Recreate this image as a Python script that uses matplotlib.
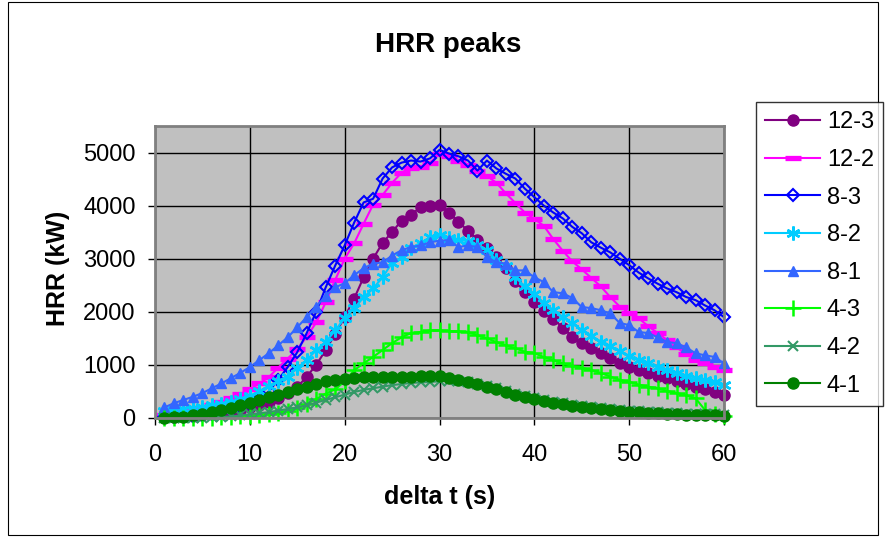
import matplotlib
matplotlib.use("Agg")
import matplotlib.pyplot as plt
from matplotlib.patches import Rectangle

plt.rcParams['font.family'] = ['Liberation Sans', 'DejaVu Sans']

# time axis (s)
t = list(range(1, 61))

labels = ["12-3", "12-2", "8-3", "8-2", "8-1", "4-3", "4-2", "4-1"]

hrr_12_3 = [10, 20, 30, 45, 60, 80, 100, 130, 160, 200,
            250, 310, 380, 470, 580, 780, 1000, 1280, 1580, 1900,
            2250, 2650, 3000, 3300, 3500, 3720, 3830, 3970, 3990, 4020,
            3870, 3690, 3530, 3350, 3200, 3030, 2830, 2580, 2370, 2180,
            2020, 1870, 1700, 1530, 1420, 1320, 1230, 1130, 1040, 960,
            900, 850, 800, 750, 700, 640, 590, 540, 490, 440]

hrr_12_2 = [50, 80, 110, 150, 190, 240, 300, 370, 450, 540,
            650, 770, 950, 1120, 1300, 1530, 1800, 2180, 2600, 3000,
            3290, 3660, 4020, 4200, 4430, 4620, 4710, 4730, 4810, 4980,
            4930, 4850, 4760, 4650, 4560, 4430, 4230, 4050, 3870, 3750,
            3620, 3370, 3150, 2950, 2800, 2640, 2480, 2280, 2100, 1980,
            1880, 1730, 1600, 1470, 1330, 1200, 1100, 1030, 960, 900]

hrr_8_3 = [10, 20, 30, 45, 60, 80, 110, 150, 200, 260,
           360, 500, 720, 960, 1240, 1600, 2000, 2460, 2870, 3250,
           3680, 4060, 4130, 4510, 4720, 4810, 4850, 4830, 4890, 5050,
           4980, 4930, 4850, 4660, 4850, 4700, 4600, 4510, 4320, 4160,
           4000, 3870, 3760, 3600, 3480, 3310, 3210, 3120, 3000, 2880,
           2740, 2630, 2530, 2440, 2370, 2280, 2220, 2120, 2030, 1900]

hrr_8_2 = [130, 150, 170, 190, 210, 240, 270, 310, 360, 420,
           500, 610, 690, 780, 940, 1090, 1280, 1430, 1650, 1880,
           2070, 2270, 2440, 2650, 2920, 3030, 3200, 3300, 3400, 3450,
           3390, 3360, 3330, 3250, 3160, 2980, 2870, 2650, 2480, 2340,
           2170, 2030, 1900, 1780, 1660, 1550, 1440, 1350, 1260, 1170,
           1100, 1030, 970, 900, 850, 800, 760, 710, 670, 620]

hrr_8_1 = [200, 280, 340, 400, 470, 560, 650, 750, 850, 960,
           1090, 1220, 1370, 1520, 1710, 1900, 2100, 2300, 2460, 2540,
           2690, 2820, 2910, 2930, 3060, 3160, 3220, 3250, 3310, 3340,
           3350, 3220, 3250, 3220, 3030, 2930, 2910, 2780, 2780, 2650,
           2560, 2370, 2350, 2260, 2090, 2070, 2030, 1970, 1790, 1750,
           1620, 1600, 1520, 1430, 1410, 1330, 1220, 1180, 1150, 1030]

hrr_4_3 = [0, 0, 0, 0, 0, 0, 10, 20, 30, 40,
           60, 80, 100, 130, 180, 260, 360, 460, 540, 690,
           900, 1030, 1150, 1280, 1410, 1520, 1600, 1620, 1650, 1650,
           1640, 1630, 1620, 1560, 1500, 1430, 1370, 1310, 1250, 1220,
           1150, 1090, 1030, 980, 950, 900, 850, 780, 720, 680,
           630, 590, 560, 510, 470, 430, 370, 150, 70, 40]

hrr_4_2 = [0, 0, 0, 0, 0, 10, 20, 30, 50, 70,
           90, 110, 140, 170, 200, 240, 290, 340, 390, 440,
           490, 530, 560, 590, 620, 640, 660, 670, 680, 690,
           700, 690, 670, 640, 610, 560, 510, 460, 420, 380,
           340, 310, 280, 250, 230, 210, 190, 170, 150, 140,
           130, 120, 110, 100, 90, 80, 80, 70, 70, 60]

hrr_4_1 = [0, 10, 20, 50, 80, 110, 150, 190, 240, 290,
           340, 390, 440, 490, 540, 590, 640, 690, 720, 740,
           760, 770, 780, 780, 780, 780, 780, 790, 790, 790,
           760, 720, 680, 640, 590, 540, 490, 440, 400, 360,
           320, 290, 260, 230, 210, 190, 170, 150, 130, 120,
           110, 100, 90, 80, 70, 60, 60, 50, 50, 40]

series = [hrr_12_3, hrr_12_2, hrr_8_3, hrr_8_2, hrr_8_1, hrr_4_3, hrr_4_2, hrr_4_1]

# line colour, marker, marker size, face colour, edge width
styles = [
    ("#800080", "o", 8, "#800080", 1.0),
    ("#FF00FF", "_", 11, "#FF00FF", 3.8),
    ("#0000FF", "D", 6, "none", 1.5),
    ("#00CCFF", (6, 2, 0), 10, "#00CCFF", 1.8),
    ("#3366FF", "^", 7.5, "#3366FF", 1.0),
    ("#00FF00", "+", 11, "#00FF00", 1.8),
    ("#339966", "x", 7, "#339966", 1.5),
    ("#008000", "o", 8, "#008000", 1.0),
]

fig = plt.figure(figsize=(8.86, 5.41), dpi=100)
ax = fig.add_axes([155/886, 1 - 418/541, (724 - 155)/886, (418 - 126)/541])
ax.set_facecolor("#C0C0C0")

for y, lab, (c, m, ms, fc, mew) in zip(series, labels, styles):
    ax.plot(t, y, color=c, lw=1.5, marker=m, markersize=ms,
            markerfacecolor=fc, markeredgecolor=c, markeredgewidth=mew,
            label=lab, clip_on=False)

ax.set_xlim(0, 60)
ax.set_ylim(0, 5500)
ax.set_xticks(range(0, 61, 10))
ax.set_yticks(range(0, 5001, 1000))
ax.grid(True, color="black", lw=1.0)
ax.set_axisbelow(True)
ax.tick_params(axis="both", labelsize=17, direction="out", length=5, width=1)
ax.tick_params(axis="x", pad=14)
ax.tick_params(axis="y", pad=9)
for s in ax.spines.values():
    s.set_color("#808080")
    s.set_linewidth(2)

fig.text(448/886, 1 - 45/541, "HRR peaks", ha="center", va="center",
         fontsize=20, fontweight="bold")
fig.text(440/886, 1 - 497/541, "delta t (s)", ha="center", va="center",
         fontsize=18, fontweight="bold")
fig.text(58/886, 1 - 268/541, "HRR (kW)", ha="center", va="center",
         fontsize=18, fontweight="bold", rotation=90)

leg = fig.legend(loc="upper left", bbox_to_anchor=(756/886, 1 - 102/541),
                 borderaxespad=0, fontsize=17, handlelength=2.3,
                 labelspacing=0.66, fancybox=False, frameon=True,
                 borderpad=0.4, handletextpad=0.3)
leg.get_frame().set_edgecolor("black")
leg.get_frame().set_linewidth(1.0)

# chart border
fig.patches.append(Rectangle((8/886, 6/541), (878 - 8)/886, (541 - 8)/541,
                             transform=fig.transFigure, fill=False,
                             edgecolor="black", lw=0.8))

fig.savefig("out.png", dpi=100)
